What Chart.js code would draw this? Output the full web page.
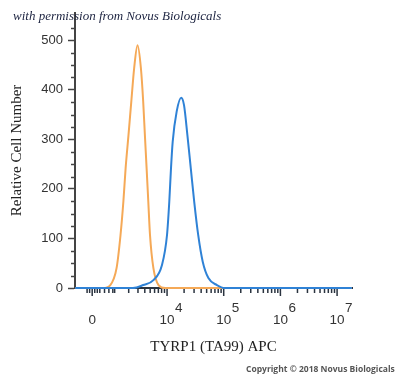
<!DOCTYPE html>
<html>
<head>
<meta charset="utf-8">
<script src="https://cdn.jsdelivr.net/npm/chart.js@4.4.1/dist/chart.umd.min.js"></script>
<style>
  html, body { margin: 0; padding: 0; background: #fff; }
  #wrap { width: 400px; height: 378px; }
</style>
</head>
<body>
<div id="wrap"><canvas id="grafico"></canvas></div>
<script>
// Histogramas: x en unidades de display (decadas biexponenciales), y = cantidad de celulas
const controlX = [2.38, 2.87, 3.00, 3.11, 3.18, 3.23, 3.27, 3.32, 3.37, 3.42, 3.48, 3.54, 3.58, 3.61, 3.64, 3.67, 3.70, 3.76, 3.85, 3.97, 7.26]
const controlY = [0, 0, 6, 40, 107, 174, 242, 308, 376, 443, 490, 443, 376, 308, 242, 174, 107, 40, 6, 0, 0]

const ta99X = [2.38, 3.40, 3.58, 3.76, 3.91, 4.00, 4.04, 4.07, 4.10, 4.17, 4.25, 4.30, 4.36, 4.42, 4.48, 4.55, 4.63, 4.73, 4.88, 5.02, 7.26]
const ta99Y = [0, 0, 6, 16, 46, 107, 174, 241, 295, 356, 384, 369, 308, 241, 174, 107, 53, 20, 6, 0, 0]

// Ticks del eje x (valores de fluorescencia) y sus etiquetas
const xMajorValues = [0, 1e4, 1e5, 1e6, 1e7]
const xMajorBase = ['0', '10', '10', '10', '10']
const xMajorExp = ['', '4', '5', '6', '7']
const xNearZero = [-200, -100, 100, 200, 300, 500, 700, 900, 1000]

// Ticks menores del eje y
const yMinorTicks = [25, 50, 75, 125, 150, 175, 225, 250, 275, 325, 350, 375, 425, 450, 475, 525]

// Transformacion biexponencial aproximada (decadas)
const C = 479
const biex = (v) => Math.log10(C) + Math.asinh(v / (2 * C)) / Math.LN10

const puntos = (xs, ys) => xs.map((x, i) => ({ x: x, y: ys[i] }))

// Marcas menores del eje x: 2..9 x 10^d
const xMinorValues = [...xNearZero]
for (let d = 3; d <= 6; d++) {
  for (let k = 2; k <= 9; k++) xMinorValues.push(k * Math.pow(10, d))
}

const extrasEjes = {
  id: 'extrasEjes',
  afterDraw(chart) {
    const { ctx, chartArea: area, scales: { x, y } } = chart
    const linea = (x1, y1, x2, y2) => { ctx.beginPath(); ctx.moveTo(x1, y1); ctx.lineTo(x2, y2); ctx.stroke() }
    ctx.save()

    // ticks menores y
    ctx.strokeStyle = '#444'
    ctx.lineWidth = 1.5
    for (const v of yMinorTicks) {
      const py = Math.round(y.getPixelForValue(v)) + 0.5
      linea(area.left - 4, py, area.left, py)
    }

    // ticks x
    ctx.strokeStyle = '#2b3440'
    ctx.lineWidth = 1.5
    for (const v of xMinorValues) {
      const px = x.getPixelForValue(biex(v))
      if (px < area.left) continue
      linea(px, area.bottom + 1, px, area.bottom + 5)
    }
    for (const v of xMajorValues) {
      const px = x.getPixelForValue(biex(v))
      linea(px, area.bottom + 1, px, area.bottom + 8)
    }

    // etiquetas x con exponente
    ctx.fillStyle = '#333'
    ctx.font = '13.5px "Liberation Sans", Arial, sans-serif'
    ctx.textBaseline = 'middle'
    xMajorValues.forEach((v, i) => {
      const px = x.getPixelForValue(biex(v))
      ctx.textAlign = 'center'
      ctx.fillText(xMajorBase[i], px, 320)
      if (xMajorExp[i]) {
        const w = ctx.measureText(xMajorBase[i]).width
        ctx.textAlign = 'left'
        ctx.fillText(xMajorExp[i], px + w / 2 + 0.5, 308)
      }
    })

    // textos de marca de agua
    ctx.textAlign = 'left'
    ctx.textBaseline = 'alphabetic'
    ctx.fillStyle = '#1c2340'
    ctx.font = 'italic 13px "Liberation Serif", serif'
    ctx.fillText('with permission from Novus Biologicals', 13, 20)

    ctx.fillStyle = '#555'
    ctx.font = 'bold 8.5px "Open Sans", sans-serif'
    ctx.fillText('Copyright \u00a9 2018 Novus Biologicals', 246, 372)

    ctx.restore()
  }
}

const chart = new Chart(document.getElementById('grafico'), {
  type: 'line',
  data: {
    datasets: [{
      label: 'TYRP1 (TA99) APC',
      data: puntos(ta99X, ta99Y),
      borderColor: '#2f82d6',
      borderWidth: 2,
      pointRadius: 0,
      cubicInterpolationMode: 'monotone',
      fill: false,
      clip: 4,
    }, {
      label: 'Control',
      data: puntos(controlX, controlY),
      borderColor: '#f5a957',
      borderWidth: 2,
      pointRadius: 0,
      cubicInterpolationMode: 'monotone',
      fill: false,
      clip: 4,
    }]
  },
  options: {
    responsive: true,
    maintainAspectRatio: false,
    animation: false,
    layout: { padding: { top: 13, right: 48, left: 0, bottom: 0 } },
    plugins: { legend: { display: false }, tooltip: { enabled: false } },
    scales: {
      x: {
        type: 'linear',
        min: 2.377,
        max: 7.263,
        afterFit: (s) => { s.height = 90 },
        ticks: { display: false },
        grid: { display: false },
        border: { color: '#2b3440', width: 2 },
        title: {
          display: true,
          text: 'TYRP1 (TA99) APC',
          color: '#222',
          font: { family: '"Liberation Serif", "Times New Roman", serif', size: 15 },
          padding: { top: 22, bottom: 22 },
        },
      },
      y: {
        type: 'linear',
        min: 0,
        max: 555,
        afterFit: (s) => { s.width = 75 },
        ticks: {
          stepSize: 100,
          includeBounds: false,
          color: '#333',
          padding: 5,
          font: { family: '"Liberation Sans", Arial, sans-serif', size: 13 },
        },
        grid: { drawOnChartArea: false, tickLength: 7, tickColor: '#444', tickWidth: 1.5 },
        border: { color: '#444', width: 2 },
        title: {
          display: true,
          text: 'Relative Cell Number',
          color: '#222',
          font: { family: '"Liberation Serif", "Times New Roman", serif', size: 15 },
          padding: { top: 8, bottom: 4 },
        },
      },
    },
  },
  plugins: [extrasEjes],
})
</script>
</body>
</html>
